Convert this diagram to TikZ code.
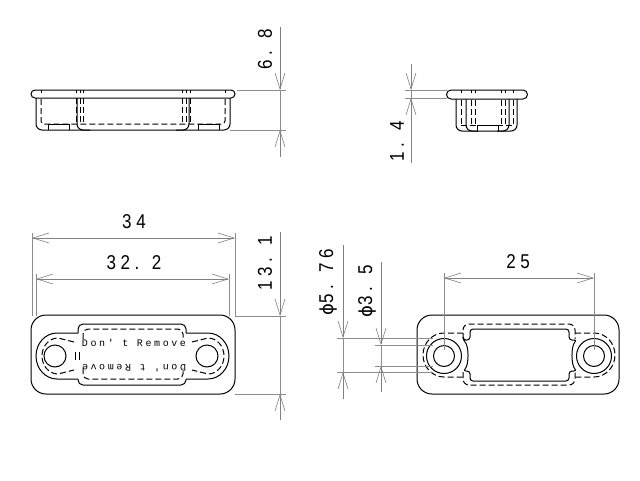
\documentclass[tikz,border=0pt]{standalone}
\usepackage{fontspec}
\usetikzlibrary{arrows.meta, positioning}
\newfontfamily\dimfont[FakeStretch=0.85,LetterSpace=23]{Liberation Sans}
\newfontfamily\phifont{DejaVu Sans}
\newfontfamily\markfont[LetterSpace=26]{Liberation Mono}

\begin{document}
\begin{tikzpicture}[
    x=1pt, y=-1pt,
    body/.style={draw=black, line width=1pt},
    hidden/.style={draw=black, line width=1pt, dash pattern=on 6pt off 3pt},
    ext/.style={draw=black!45, line width=0.8pt},
    dimline/.style={draw=black!50, line width=0.9pt, {Straight Barb[length=16pt,width=10pt,line width=0.6pt]}-{Straight Barb[length=16pt,width=10pt,line width=0.6pt]}},
    inarrow/.style={draw=black!50, line width=0.9pt, -{Straight Barb[length=16pt,width=10pt,line width=0.6pt]}},
    dimtext/.style={font=\dimfont\fontsize{20}{20}\selectfont, inner sep=0pt, text=black},
    marktext/.style={font=\markfont\fontsize{10}{10}\selectfont, inner sep=0pt, text=black}
]
\useasboundingbox[fill=white] (0,0) rectangle (640,480);

% Front view
\draw[body] (35,90) -- (231,90) arc[start angle=-90, end angle=90, radius=4] -- (35,98) arc[start angle=90, end angle=270, radius=4] -- cycle;
\draw[body, rounded corners=6pt] (36,98) -- (36,130) -- (230,130) -- (230,98);
\draw[body, rounded corners=6pt] (77,98) -- (77,130) -- (90,130);
\draw[body, rounded corners=6pt] (189,98) -- (189,130) -- (176,130);
\draw[body] (48,130) -- (48,124) -- (69,124) -- (69,130);
\draw[body] (198,130) -- (198,124) -- (219,124) -- (219,130);
\draw[hidden, rounded corners=3pt] (41,99) -- (41,124) -- (225,124) -- (225,99);
\foreach \x in {76,80,83,182,186,190}
    \draw[hidden] (\x,98) -- (\x,122);
\foreach \x in {41,76,80,83,182,186,190,225}
    \draw[body] (\x,90) -- (\x,93);

% Side view
\draw[body] (451,90) -- (523,90) arc[start angle=270, end angle=450, radius=4.5] -- (451,99) arc[start angle=90, end angle=270, radius=4.5];
\draw[body, rounded corners=6pt] (456,99) -- (456,131) -- (517,131) -- (517,99);
\draw[body, rounded corners=6pt] (466,99) -- (466,131) -- (478,131);
\draw[body, rounded corners=6pt] (509,99) -- (509,131) -- (497,131);
\draw[body] (477,131) -- (477,125) -- (498,125) -- (498,131);
\draw[hidden] (461,125) -- (513,125);
\foreach \x in {461,471,475,501,505,513}
    \draw[hidden] (\x,100) -- (\x,124);
\foreach \x in {461,471,475,501,505,513}
    \draw[body] (\x,90) -- (\x,93);

% Plan with lettering
\draw[body, rounded corners=15pt] (31,355) -- (31,315) -- (235,315) -- (235,394) -- (31,394) -- cycle;
\draw[body, rounded corners=5pt] (78,333) -- (78,324) -- (186,324) -- (186,333);
\draw[body, rounded corners=5pt] (186,379) -- (186,385) -- (78,385) -- (78,379);
\draw[body] (78,333) -- (57,333) arc[start angle=270, end angle=90, x radius=21, y radius=23] -- (78,379);
\draw[body] (186,333) -- (208,333) arc[start angle=-90, end angle=90, x radius=21, y radius=23] -- (186,379);
\draw[hidden, rounded corners=5pt] (83,339) -- (83,329) -- (183,329) -- (183,339);
\draw[hidden, rounded corners=5pt] (83,368) -- (83,379) -- (183,379) -- (183,368);
\draw[hidden] (74,342) -- (58,338) arc[start angle=270, end angle=90, x radius=16, y radius=18] -- (74,370);
\draw[hidden] (192,342) -- (208,338) arc[start angle=-90, end angle=90, x radius=16, y radius=18] -- (192,370);
\foreach \x in {75,79}
    \draw[body] (\x,352) -- (\x,360);
\draw[body] (55,356) circle[radius=11];
\draw[body] (207,356) circle[radius=11];
\node[marktext] (mark_top) at (134,343) {Don' t Remove};
\node[marktext, rotate=180] (mark_bottom) at (134,368) {Don' t Remove};

% Plan with window
\draw[body, rounded corners=15pt] (417,355) -- (417,315) -- (619,315) -- (619,394) -- (417,394) -- cycle;
\draw[body, rounded corners=3pt] (463,340) -- (470,340) -- (470,329) -- (569,329) -- (569,340) -- (577,340)
    .. controls (571,346) and (571,365) .. (577,371) -- (569,371) -- (569,381) -- (470,381) -- (470,371) -- (463,371)
    .. controls (469,365) and (469,346) .. cycle;
\draw[hidden, rounded corners=6pt] (463,339) -- (463,324) -- (575,324) -- (575,339);
\draw[hidden, rounded corners=6pt] (463,372) -- (463,385) -- (575,385) -- (575,372);
\draw[hidden] (463,333) -- (444,333) arc[start angle=270, end angle=90, x radius=21, y radius=22] -- (463,377);
\draw[hidden] (575,333) -- (594,333) arc[start angle=-90, end angle=90, x radius=21, y radius=22] -- (575,377);
\foreach \x in {444,594} {
    \draw[body] (\x,356) circle[radius=10.5];
    \draw[body] (\x,356) circle[radius=17.5];
}

% Extension lines
\draw[ext] (237,90) -- (286,90);
\draw[ext] (230,130) -- (286,130);
\draw[ext] (405,90) -- (447,90);
\draw[ext] (405,98) -- (447,98);
\draw[ext] (32,233) -- (32,316);
\draw[ext] (235,233) -- (235,316);
\draw[ext] (36,274) -- (36,316);
\draw[ext] (229,274) -- (229,316);
\draw[ext] (235,316) -- (286,316);
\draw[ext] (235,394) -- (286,394);
\draw[ext] (444,273) -- (444,350);
\draw[ext] (594,273) -- (594,350);
\draw[ext] (337,338) -- (433,338);
\draw[ext] (337,372) -- (433,372);
\draw[ext] (375,345) -- (433,345);
\draw[ext] (375,366) -- (433,366);

% Dimensions
\coordinate (d68_top) at (280,27);
\coordinate (d68_a) at (280,90);
\coordinate (d68_b) at (280,130);
\coordinate (d68_bottom) at (280,157);
\draw[inarrow] (d68_top) -- (d68_a);
\draw[inarrow] (d68_bottom) -- (d68_b);
\draw[ext] (d68_a) -- (d68_b);
\node[dimtext, rotate=90] (label_68) at (265,49) {6. 8};

\coordinate (d14_top) at (411,64);
\coordinate (d14_a) at (411,90);
\coordinate (d14_b) at (411,98);
\coordinate (d14_bottom) at (411,163);
\draw[inarrow] (d14_top) -- (d14_a);
\draw[inarrow] (d14_bottom) -- (d14_b);
\draw[ext] (d14_a) -- (d14_b);
\node[dimtext, rotate=90] (label_14) at (397,141) {1. 4};

\coordinate (d34_a) at (32,238);
\coordinate (d34_b) at (235,238);
\draw[dimline] (d34_a) -- (d34_b);
\node[dimtext] (label_34) at (134,222) {34};

\coordinate (d322_a) at (36,279);
\coordinate (d322_b) at (229,279);
\draw[dimline] (d322_a) -- (d322_b);
\node[dimtext] (label_322) at (134,263) {32. 2};

\coordinate (d131_top) at (280,232);
\coordinate (d131_a) at (280,316);
\coordinate (d131_b) at (280,394);
\coordinate (d131_bottom) at (280,420);
\draw[inarrow] (d131_top) -- (d131_a);
\draw[inarrow] (d131_bottom) -- (d131_b);
\draw[ext] (d131_a) -- (d131_b);
\node[dimtext, rotate=90] (label_131) at (265,263) {13. 1};

\coordinate (d25_a) at (444,278);
\coordinate (d25_b) at (594,278);
\draw[dimline] (d25_a) -- (d25_b);
\node[dimtext] (label_25) at (518,262) {25};

\coordinate (d576_top) at (343,245);
\coordinate (d576_a) at (343,338);
\coordinate (d576_b) at (343,372);
\coordinate (d576_bottom) at (343,399);
\draw[inarrow] (d576_top) -- (d576_a);
\draw[inarrow] (d576_bottom) -- (d576_b);
\draw[ext] (d576_a) -- (d576_b);
\node[dimtext, rotate=90] (label_576) at (328,282) {{\phifont\fontsize{18}{18}\selectfont ϕ}5. 76};

\coordinate (d35_top) at (381,262);
\coordinate (d35_a) at (381,345);
\coordinate (d35_b) at (381,366);
\coordinate (d35_bottom) at (381,392);
\draw[inarrow] (d35_top) -- (d35_a);
\draw[inarrow] (d35_bottom) -- (d35_b);
\draw[ext] (d35_a) -- (d35_b);
\node[dimtext, rotate=90] (label_35) at (367,291) {{\phifont\fontsize{18}{18}\selectfont ϕ}3. 5};

\end{tikzpicture}
\end{document}
